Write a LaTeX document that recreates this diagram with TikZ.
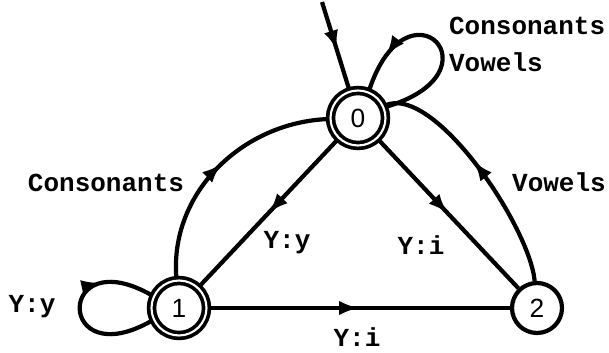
\documentclass[tikz,border=0pt]{standalone}
\usepackage{fontspec}
\setmonofont{Liberation Mono}
\setsansfont{Liberation Sans}
\usetikzlibrary{arrows.meta,decorations.markings}

\begin{document}
\begin{tikzpicture}[
  x=0.02cm, y=0.02cm,
  line width=2.4pt,
  lab/.style={font=\ttfamily\bfseries\fontsize{14.8}{21}\selectfont,inner sep=0pt},
  stnode/.style={draw,circle,minimum size=1.0cm,inner sep=0pt,font=\sffamily\fontsize{15}{17}\selectfont},
  accept/.style={stnode,double,line width=2.1pt,double distance=1.2pt,minimum size=1.1cm},
  midarrow/.style={postaction={decorate},decoration={markings,mark=at position #1 with {\arrow{>}}}},
  >={Latex[length=4mm,width=2.9mm]}
]
\useasboundingbox (0,0) rectangle (609,352);
\node[accept] (n0) at (358,234) {0};
\node[accept] (n1) at (179,44) {1};
\node[stnode] (n2) at (537,44) {2};
\coordinate (init) at (322,350);
\draw[midarrow=.55] (init) -- (n0);
\draw[midarrow=.8] (n0.22) .. controls +(16:124) and +(72:124) .. (n0.68);
\draw[midarrow=.7] (n1.205) .. controls +(210:112) and +(150:112) .. (n1.155);
\draw[midarrow=.52] (n1) to[out=95,in=182] (n0);
\draw[midarrow=.55] (n2) to[out=95,in=25,looseness=.6] (n0);
\draw[midarrow=.5] (n0) -- (n1);
\draw[midarrow=.5] (n0) -- (n2);
\draw[midarrow=.5] (n1) -- (n2);
\node[lab,anchor=west,align=left] (lcv) at (447,308) {Consonants\\Vowels};
\node[lab] (lc) at (106,169) {Consonants};
\node[lab] (lyy) at (287,109) {Y:y};
\node[lab] (lyi) at (421,107) {Y:i};
\node[lab] (lv) at (559,170) {Vowels};
\node[lab] (lyi2) at (357,15) {Y:i};
\node[lab] (lyy2) at (32,45) {Y:y};
\end{tikzpicture}
\end{document}
